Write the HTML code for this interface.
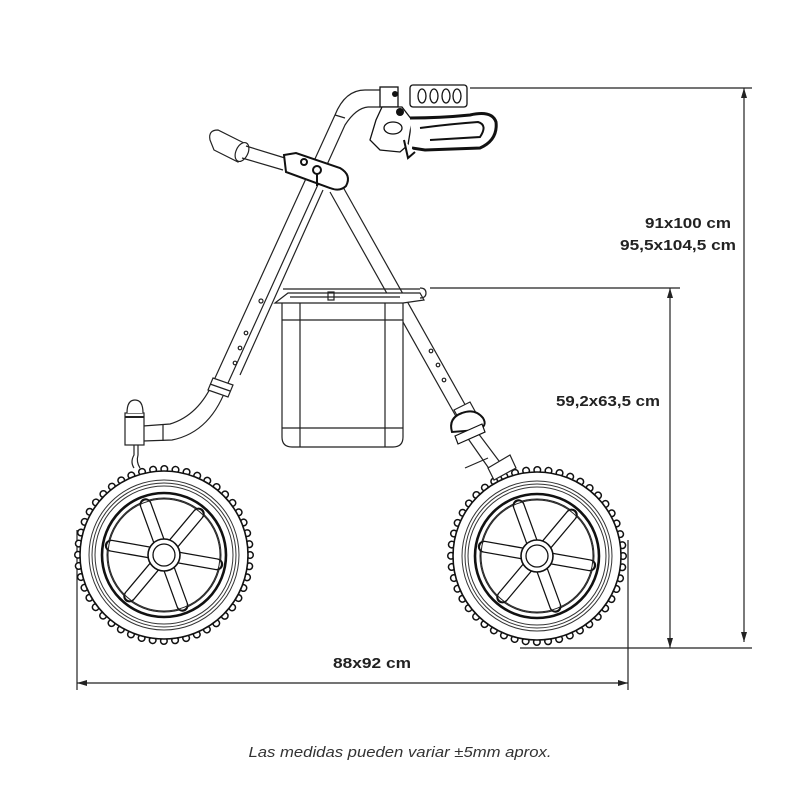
<!DOCTYPE html>
<html><head><meta charset="utf-8"><style>
html,body{margin:0;padding:0;background:#fff;}
svg{display:block;}
.t{font-family:"Liberation Sans",sans-serif;font-weight:bold;font-size:15px;fill:#222;}
</style></head><body>
<svg width="800" height="800" viewBox="0 0 800 800" xmlns="http://www.w3.org/2000/svg">
<defs>
<g id="wheel">
  <circle r="86" fill="none" stroke="#111" stroke-width="8" stroke-linecap="round" stroke-dasharray="0.1 11.16"/>
  <circle r="86" fill="none" stroke="#fff" stroke-width="5" stroke-linecap="round" stroke-dasharray="0.1 11.16"/>
  <circle r="84" fill="#fff" stroke="#111" stroke-width="1.6"/>
  <circle r="75" fill="none" stroke="#333" stroke-width="1"/>
  <circle r="72" fill="none" stroke="#333" stroke-width="1"/>
  <circle r="69" fill="none" stroke="#333" stroke-width="1"/>
  <circle r="62" fill="none" stroke="#111" stroke-width="2.6"/>
  <circle r="57" fill="none" stroke="#222" stroke-width="1"/>
  <g stroke="#111" stroke-width="12" stroke-linecap="round">
    <line x1="0" y1="0" x2="54" y2="0" transform="rotate(10)"/>
    <line x1="0" y1="0" x2="54" y2="0" transform="rotate(70)"/>
    <line x1="0" y1="0" x2="54" y2="0" transform="rotate(130)"/>
    <line x1="0" y1="0" x2="54" y2="0" transform="rotate(190)"/>
    <line x1="0" y1="0" x2="54" y2="0" transform="rotate(250)"/>
    <line x1="0" y1="0" x2="54" y2="0" transform="rotate(310)"/>
  </g>
  <g stroke="#fff" stroke-width="9.5" stroke-linecap="round">
    <line x1="0" y1="0" x2="53" y2="0" transform="rotate(10)"/>
    <line x1="0" y1="0" x2="53" y2="0" transform="rotate(70)"/>
    <line x1="0" y1="0" x2="53" y2="0" transform="rotate(130)"/>
    <line x1="0" y1="0" x2="53" y2="0" transform="rotate(190)"/>
    <line x1="0" y1="0" x2="53" y2="0" transform="rotate(250)"/>
    <line x1="0" y1="0" x2="53" y2="0" transform="rotate(310)"/>
  </g>
  <circle r="56" fill="none" stroke="#222" stroke-width="1"/>
  <circle r="16" fill="#fff" stroke="#111" stroke-width="1.6"/>
  <circle r="11" fill="#fff" stroke="#111" stroke-width="1.3"/>
</g>
</defs>

<g stroke="#222" stroke-width="1.2" fill="none">
  <line x1="470" y1="88" x2="752" y2="88"/>
  <line x1="744" y1="88" x2="744" y2="642"/>
  <line x1="430" y1="288" x2="680" y2="288"/>
  <line x1="670" y1="288" x2="670" y2="648"/>
  <line x1="520" y1="648" x2="752" y2="648"/>
  <line x1="77" y1="530" x2="77" y2="690"/>
  <line x1="628" y1="540" x2="628" y2="690"/>
  <line x1="77" y1="683" x2="628" y2="683"/>
</g>
<g fill="#222">
  <polygon points="744,88 741,98 747,98"/>
  <polygon points="744,642 741,632 747,632"/>
  <polygon points="670,288 667,298 673,298"/>
  <polygon points="670,648 667,638 673,638"/>
  <polygon points="77,683 87,680 87,686"/>
  <polygon points="628,683 618,680 618,686"/>
</g>

<use href="#wheel" x="164" y="555"/>
<use href="#wheel" x="537" y="556"/>

<g stroke="#222" stroke-width="1.2" fill="none">
  <path d="M380,90 L365,90 Q345,90 335,115 L215,378"/>
  <path d="M380,107 L368,107 Q356,108 345,125 L228,383"/>
  <path d="M215,378 Q200,415 170,424 L143,426"/>
  <path d="M228,383 Q212,432 172,440 L143,441"/>
  <line x1="163" y1="424" x2="163" y2="441"/>
  <line x1="335" y1="115" x2="345" y2="118"/>
  <polygon points="213,378 233,385 228,397 208,390" fill="#fff"/>
  <line x1="210" y1="384" x2="230" y2="391"/>
  <line x1="323" y1="190" x2="240" y2="375"/>
  <path d="M343,187 L472,417"/>
  <path d="M330,192 L458,420"/>
  <polygon points="454,410 470,402 476,413 460,421" fill="#fff"/>
  <circle cx="261" cy="301" r="2" /><circle cx="246" cy="333" r="1.8"/><circle cx="240" cy="348" r="1.8"/><circle cx="235" cy="363" r="1.8"/>
  <circle cx="403" cy="295" r="1.6"/><circle cx="431" cy="351" r="1.8"/><circle cx="438" cy="365" r="1.8"/><circle cx="444" cy="380" r="1.8"/>
  <rect x="125" y="413" width="19" height="32" fill="#fff"/>
  <path d="M127,413 Q127,400 135,400 Q143,400 143,413" fill="#fff"/>
  <line x1="125" y1="417" x2="144" y2="417" stroke-width="2"/>
  <path d="M134,445 L134,455 Q130,462 134,468"/>
  <path d="M138,445 L138,455 Q136,462 140,468"/>
  <path d="M462,430 L490,470"/>
  <path d="M472,425 L502,465"/>
  <polygon points="488,468 510,455 516,468 494,480" fill="#fff"/>
  <line x1="465" y1="468" x2="488" y2="458"/>
  <path d="M282,303 L282,437 Q282,447 292,447 L393,447 Q403,447 403,437 L403,303" fill="#fff"/>
  <line x1="300" y1="303" x2="300" y2="447"/>
  <line x1="385" y1="303" x2="385" y2="447"/>
  <line x1="282" y1="320" x2="403" y2="320"/>
  <line x1="282" y1="428" x2="403" y2="428"/>
  <path d="M275,303 L288,293 L420,293 L424,300 L403,303 Z" fill="#fff"/>
  <line x1="283" y1="289" x2="420" y2="289"/>
  <line x1="290" y1="297" x2="400" y2="297"/>
  <rect x="328" y="292" width="6" height="8"/>
  <path d="M420,288 Q426,288 426,293 Q426,298 420,298"/>
  <path d="M210,140 Q208,130 218,130 L244,143 L238,162 L214,150 Z" fill="#fff"/>
  <ellipse cx="242" cy="152" rx="6" ry="10" transform="rotate(25 242 152)" fill="#fff"/>
  <line x1="246" y1="146" x2="285" y2="158"/>
  <line x1="242" y1="158" x2="283" y2="170"/>
</g>
<g stroke="#111" fill="#fff" stroke-width="2">
  <path d="M284,155 L296,153 L340,168 Q352,175 346,186 Q340,192 330,188 L286,172 Z"/>
  <circle cx="317" cy="170" r="4"/>
  <circle cx="304" cy="162" r="3"/>
  <line x1="317" y1="174" x2="317" y2="186"/>
</g>
<g stroke="#111" stroke-width="2" fill="#fff">
  <path d="M452,432 Q448,418 462,413 Q475,408 483,418 Q488,426 478,430 Z"/>
  <path d="M455,436 L482,424 L485,432 L458,444 Z" stroke-width="1.2"/>
</g>
<g stroke="#111" stroke-width="1.3" fill="#fff">
  <rect x="380" y="87" width="18" height="20"/>
  <rect x="410" y="85" width="57" height="22" rx="3"/>
  <ellipse cx="422" cy="96" rx="4" ry="7"/>
  <ellipse cx="434" cy="96" rx="4" ry="7"/>
  <ellipse cx="446" cy="96" rx="4" ry="7"/>
  <ellipse cx="457" cy="96" rx="4" ry="7"/>
  <path d="M382,107 L402,107 L412,120 L408,145 L400,152 L380,150 L370,140 L376,120 Z"/>
  <ellipse cx="393" cy="128" rx="9" ry="6"/>
  <path d="M410,118 Q440,118 470,115 Q492,110 496,122 Q498,140 480,148 L425,150 L412,148" stroke-width="3"/>
  <path d="M420,128 Q450,124 478,122 Q488,125 480,137 L430,140" stroke-width="2"/>
  <path d="M404,140 L408,158 L415,152" stroke-width="2"/>
</g>
<g fill="#111"><circle cx="395" cy="94" r="3"/><circle cx="400" cy="112" r="4"/></g>

<text class="t" x="731" y="228" text-anchor="end" textLength="86" lengthAdjust="spacingAndGlyphs">91x100 cm</text>
<text class="t" x="736" y="250" text-anchor="end" textLength="116" lengthAdjust="spacingAndGlyphs">95,5x104,5 cm</text>
<text class="t" x="660" y="406" text-anchor="end" textLength="104" lengthAdjust="spacingAndGlyphs">59,2x63,5 cm</text>
<text class="t" x="372" y="668" text-anchor="middle" textLength="78" lengthAdjust="spacingAndGlyphs">88x92 cm</text>
<text x="400" y="757" text-anchor="middle" font-family="Liberation Sans, sans-serif" font-style="italic" font-size="15" fill="#333" textLength="303" lengthAdjust="spacingAndGlyphs">Las medidas pueden variar ±5mm aprox.</text>
</svg>
</body></html>
